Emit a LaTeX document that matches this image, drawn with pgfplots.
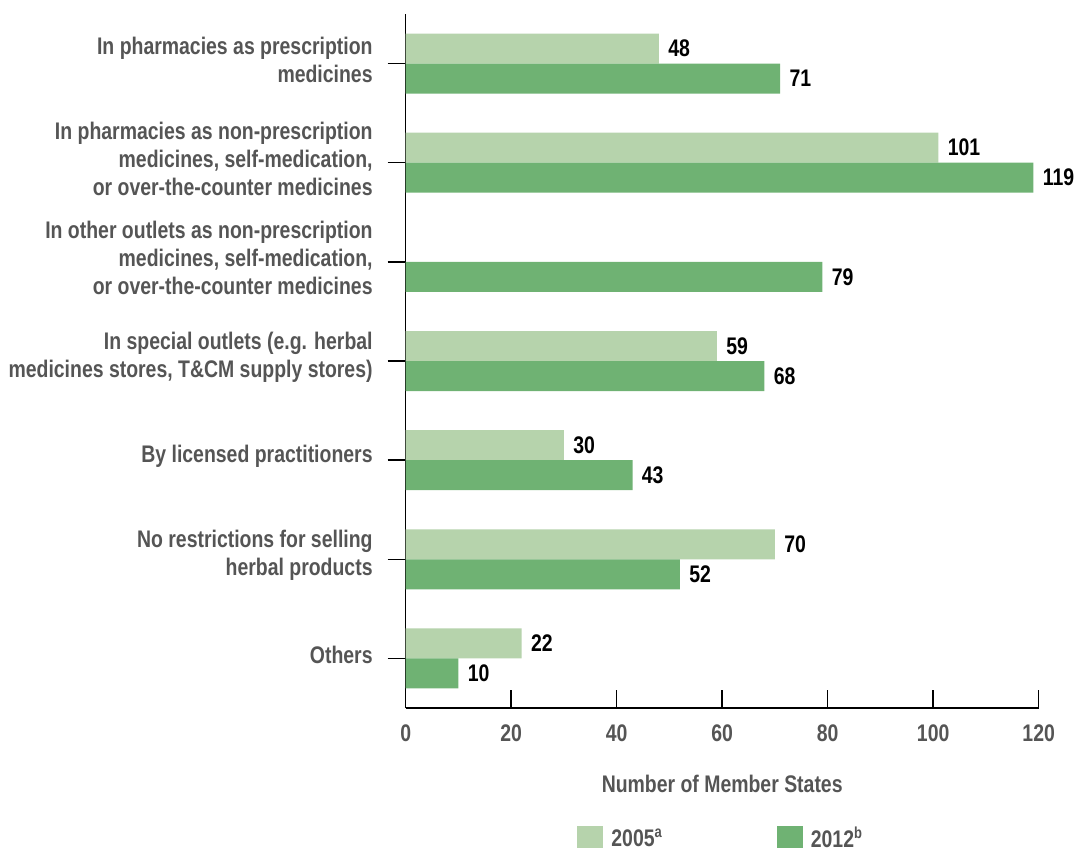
\documentclass[border=0pt]{standalone}
\usepackage{pgfplots}
\pgfplotsset{compat=1.18}
\usepackage{fontspec}
\setmainfont{Liberation Sans}[FakeStretch=0.81]
\definecolor{lightg}{RGB}{182,211,172}
\definecolor{darkg}{RGB}{111,178,115}
\definecolor{txt}{RGB}{85,85,85}
\newcommand{\lf}{\bfseries\fontsize{12}{14}\selectfont}
\begin{document}
\begin{tikzpicture}[font=\lf]
\begin{axis}[name=ax, at={(0,0)}, anchor=south west,
  scale only axis, width=316.5pt, height=347pt,
  xbar, bar width=15pt,
  xmin=0, xmax=120, ymin=-0.5, ymax=6.5,
  axis lines*=left,
  axis line style={line width=0.75pt, black},
  major tick style={line width=0.75pt, black},
  major tick length=9pt,
  xtick={0,20,...,120},
  ytick={0,...,6},
  yticklabels={
    {Others},
    {No restrictions for selling\\herbal products},
    {By licensed practitioners},
    {In special outlets (e.g. herbal\\medicines stores, T\&CM supply stores)},
    {In other outlets as non-prescription\\medicines, self-medication,\\or over-the-counter medicines},
    {In pharmacies as non-prescription\\medicines, self-medication,\\or over-the-counter medicines},
    {In pharmacies as prescription\\medicines}},
  yticklabel style={align=right, anchor=east, inner sep=0pt, xshift=-7.35pt, yshift=2pt, text=txt, font=\lf},
  xticklabel style={anchor=center, inner sep=0pt, yshift=-12.5pt, text=txt, font=\lf},
  /pgf/number format/assume math mode=true,
  xlabel={Number of Member States},
  xlabel style={at={(axis description cs:0.5,-0.1095)}, anchor=center, text=txt, font=\lf},
  nodes near coords,
  nodes near coords style={font=\lf, text=black, anchor=west, inner sep=0pt, xshift=4.5pt},
  legend style={at={(0.2706,-0.1657)}, anchor=north west, draw=none, fill=none,
    inner sep=0pt, font=\lf, text=txt,
    /tikz/every odd column/.append style={column sep=2pt},
    /tikz/every even column/.append style={column sep=55pt}},
  legend columns=2,
  legend image code/.code={\fill[#1] (0pt,-6.5pt) rectangle (13pt,6.5pt);},
]
\addplot[fill=lightg, draw=none, bar shift=7.5pt] coordinates {(22,0) (70,1) (30,2) (59,3) (101,5) (48,6)};
\addplot[fill=darkg, draw=none, bar shift=-7.5pt] coordinates {(10,0) (52,1) (43,2) (68,3) (79,4) (119,5) (71,6)};
\legend{2005\textsuperscript{a}, 2012\textsuperscript{b}}
\end{axis}
\pgfresetboundingbox
\path ([shift={(-202.85pt,-69.5pt)}]ax.south west) rectangle ([shift={(335.65pt,354pt)}]ax.south west);
\end{tikzpicture}
\end{document}
